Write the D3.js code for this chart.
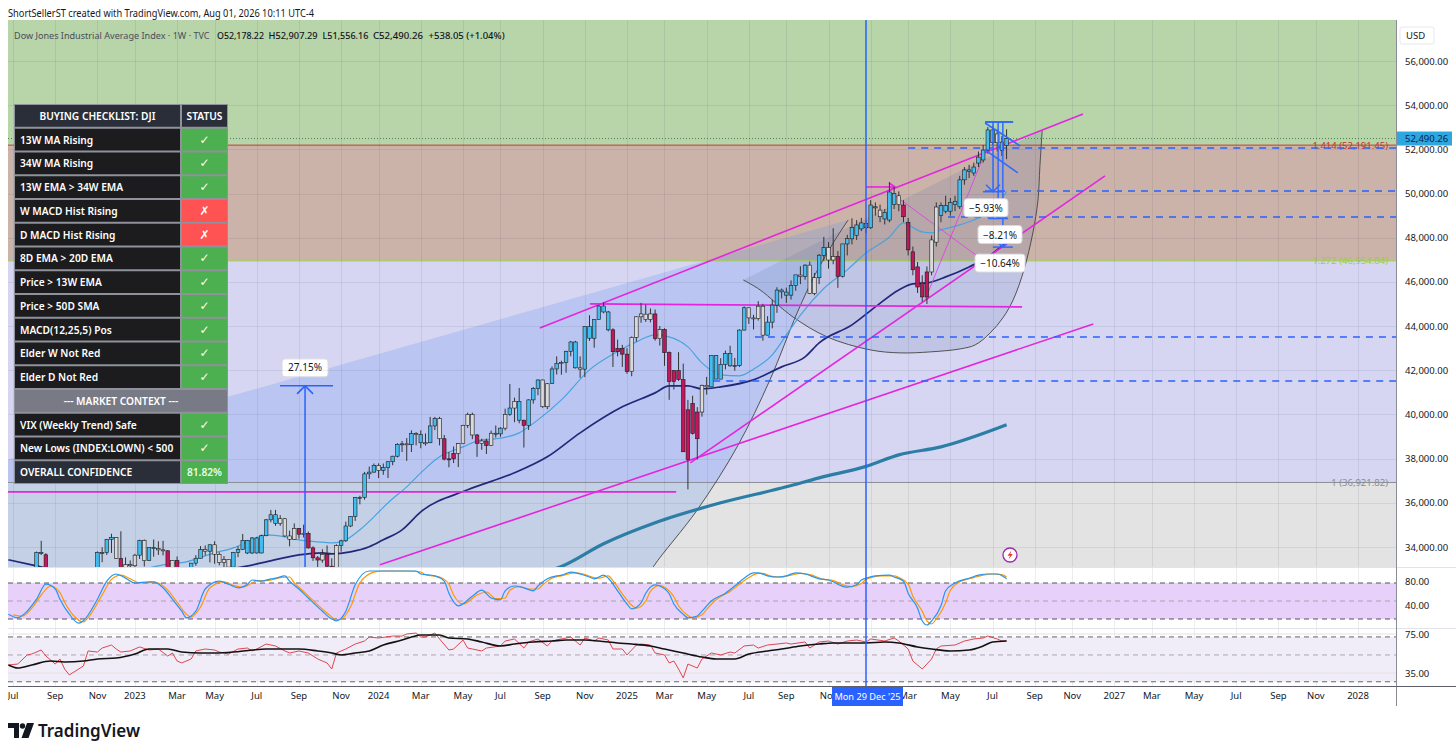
<!DOCTYPE html>
<html>
<head>
<meta http-equiv="Content-Type" content="text/html;charset=utf-8">
<script src="https://d3js.org/d3.v7.min.js"></script>
<style>
body { margin: 0; background: #fff; }
svg { display: block; font-family: "Noto Sans", sans-serif; }
</style>
</head>
<body>
<svg id="chart" width="1456" height="755"></svg>
<script type="text/javascript">

// ---- weekly bars, DJI, first bar = week of Mon 27 Jun 2022 ----
var opens = [31500,31100,31340,31300,31900,32850,32800,33760,33650,32300,
31320,32150,30820,29590,28730,29300,29640,31080,32860,32400,
33750,33750,34350,34430,33480,32920,33200,33150,33630,34300,
33380,33980,33930,33870,33830,32820,33390,31910,31860,32240,
33270,33490,33890,33810,34100,33670,33300,33430,33090,33760,
33880,34300,33730,34410,33730,34510,35230,35460,35070,35280,
34500,34350,34840,34580,34620,33960,33510,33410,33670,33130,
32420,34060,34280,34950,35390,36250,36250,37310,37390,37690,
37470,37590,37860,38110,38650,38670,38630,39130,39090,38720,
38720,39480,39810,38900,37980,37990,38240,38680,39510,40000,
39070,38690,38800,38590,39150,39120,39380,40000,40290,40590,
39740,39500,40660,41180,41560,40350,41400,42060,42310,42350,
42860,43280,42110,42050,43990,43450,44300,44910,44640,43830,
42840,42990,42730,41940,43490,44420,44540,44300,44550,43430,
43840,42800,41490,41990,41580,37960,40500,38900,40110,41320,
41250,42660,41600,42270,42760,42200,42210,43820,44830,44370,
44340,44900,43590,44180,44950,45630,45540,45400,45830,46310,
46250,46760,45480,46190,47200,47560,46990,47150,46250,47720,
47950,48100,48400,48650,48450,49400,49250,48850,48800,49500,
49900,49480,48700,47360,46680,45950,45320,46450,47800,49000,
49450,49200,49500,49400,50620,51000,50930,51380,51520,51970,
52880,52300,52330,52178.22];

var highs = [31540,31420,31360,32290,32910,32990,33790,34280,33720,32480,
32200,32510,31110,30070,30320,30040,31090,32890,33030,33800,
33990,34360,34600,34440,34710,33530,33390,33690,34330,34340,
33980,34340,34260,34280,33850,33410,33570,32600,32540,33280,
33630,34040,34070,34120,34260,33760,33590,33430,33780,34030,
34590,34320,34450,34460,34560,35270,35680,35680,35440,35310,
34740,35070,34860,35010,34700,34030,33590,33900,34070,33490,
34120,34330,35150,35400,36250,36320,37400,37640,37780,37790,
37780,37880,38130,38700,38800,38930,39280,39200,39280,39140,
39890,39890,39890,39070,38300,38550,38700,39530,40080,40080,
39120,38900,38910,39270,39500,39420,40260,41380,40760,41200,
39760,40680,41240,41590,41580,41420,42170,42630,42430,42880,
43330,43330,42630,44000,44490,44300,44960,45070,44690,43900,
43390,43150,43000,43530,44440,45050,44970,44800,44750,44000,
43900,42850,42000,42820,42300,40660,40850,40330,41350,41700,
42660,42670,42550,42890,43110,42560,43850,44890,44830,44510,
45130,45010,44450,45190,45760,45700,45740,46070,46310,46710,
46800,46920,46400,47260,48040,47800,48430,47400,47720,48130,
48880,48800,48900,48800,49700,49600,49500,49300,50520,50300,
50100,49700,48900,47600,46900,46300,46700,48100,49600,49600,
49900,49800,49900,50800,51200,51300,51400,51900,52200,53010,
53050,52900,52600,52907.29];

var lows = [30640,30690,30140,31280,31720,32410,32630,33640,32280,31220,
31110,30650,29440,28720,28720,28660,29640,31070,31730,32390,
33310,33640,33730,33470,32570,32580,32770,32810,33460,33120,
33380,33560,33640,33620,32790,32500,31880,31430,31810,32190,
33150,33490,33620,33300,33240,33170,33020,32670,32850,33540,
33860,33680,33680,33700,33710,34490,35120,34960,34960,34460,
34030,34340,34380,34430,33930,33370,32850,33290,33100,32330,
32330,33790,34230,34900,35180,35930,36140,37080,37360,37120,
37270,37120,37700,38050,38300,37900,38300,38600,38470,38590,
38700,39290,38600,37920,37610,37800,37620,38670,39390,38880,
38080,38400,38210,38580,38950,38990,39280,39940,39650,39600,
38500,39300,40490,40870,40300,40240,41380,41810,41800,41890,
42630,42080,41660,41690,43330,43020,44300,44580,43760,42150,
42630,42150,41840,41730,43300,44150,44190,44170,43340,43120,
42200,40660,41130,41520,38300,36610,39090,37960,39900,40900,
41250,41600,41600,42040,42160,41980,42150,43800,44100,43850,
44250,43340,43580,43900,44600,45250,45050,45200,45600,45900,
46100,45450,45400,45900,46950,46600,46800,45730,46200,47200,
47700,47900,48300,48200,48400,49000,48700,48600,48700,49300,
49200,48700,47200,46300,45500,45100,45000,46300,47600,48700,
49100,49000,49200,49300,50400,50700,50800,51200,51400,51800,
52200,51900,51700,51556.16];

var closes = [31100,31340,31290,31900,32850,32800,33760,33710,32280,31320,
32150,30820,29590,28730,29300,29630,31080,32860,32400,33750,
33750,34350,34430,33480,32920,33200,33150,33630,34300,33380,
33980,33930,33870,33830,32820,33390,31910,31860,32240,33270,
33490,33890,33810,34100,33670,33300,33430,33090,33760,33880,
34300,33730,34410,33730,34510,35230,35460,35070,35280,34500,
34350,34840,34580,34620,33960,33510,33410,33670,33130,32420,
34060,34280,34950,35390,36250,36250,37310,37390,37690,37470,
37590,37860,38110,38650,38670,38630,39130,39090,38720,38720,
39480,39810,38900,37980,37990,38240,38680,39510,40000,39070,
38690,38800,38590,39150,39120,39380,40000,40290,40590,39740,
39500,40660,41180,41560,40350,41390,42060,42310,42350,42860,
43280,42110,42050,43990,43450,44300,44910,44640,43830,42840,
42990,42730,41940,43490,44420,44550,44300,44550,43430,43840,
42800,41490,41990,41580,38310,40210,39140,40110,41320,41250,
42660,41600,42270,42760,42200,42210,43820,44830,44370,44340,
44900,43590,44180,44950,45630,45550,45400,45830,46320,46250,
46760,45480,46190,47210,47560,46990,47150,46250,47720,47960,
48460,48580,48670,48450,49480,49350,48950,49150,50070,50000,
49500,48950,47450,46550,45770,45320,46450,47900,49390,49450,
49200,49600,49650,50620,51070,51070,51200,51650,51970,52880,
52300,52700,51950,52490.26];

// Elder impulse colour per bar: b = blue, r = red, g = neutral
var impulse = "gggbbb" + "bb" + "rrrgrrrgg" + "bbbbbb" + "grgg" + "gbgbbgg" + "rgrrg" + "bbbgbg" +
  "gggb" + "bbbbbbbb" + "bggg" + "grgr" + "rrgrr" + "g" + "bbbbbbbb" + "gbbbbbgbgbgbbg" +
  "rrrggggrgrg" + "bbgbgbrbbbggbbgbbbgbbbbbb" + "rrrrgggggrgrrrrrrrrgg" + "bbbbbbbbggggbbbb" +
  "bbbgbggbbggr" + "bbbbbbbb" + "gbbbg" + "rrrrrr" + "gg" + "bbbbbbbbbbbb" + "gbb";

// moving averages [bar, price]
var ema13 = [[30,33050],[33,33194],[38,33330],[44,33737],[48,33963],[52,34325],[55,34551],[59,34461],
  [62,34325],[66,34234],[69,34189],[71,34234],[75,34777],[78,35366],[81,35999],[85,36724],[88,37357],
  [92,38081],[97,38534],[101,38850],[104,38895],[109,39167],[113,39755],[118,40660],[124,42020],
  [130,42850],[134,43285],[138,43602],[141,43511],[145,43058],[148,42335],[152,41792],[156,41750],
  [159,42050],[163,42700],[166,43600],[169,44500],[174,45700],[179,46543],[183,47312],[188,48036],
  [191,48670],[192,48579],[195,48262],[197,48217],[199,48353],[203,48579],[206,48805],[209,49122],
  [211,49500],[213,50100]];
var ema34 = [[0,33420],[5,33194],[8,33050],[15,32700],[25,32500],[35,32700],[45,32950],[50,33100],
  [55,33330],[62,33646],[67,33737],[69,33692],[73,33782],[77,34008],[80,34325],[84,34777],[88,35592],
  [98,36588],[108,37357],[115,38081],[122,39167],[131,40344],[138,40977],[141,41294],[145,41294],
  [148,41158],[152,41249],[159,41565],[165,42154],[170,42606],[173,43240],[180,44054],[185,44868],
  [190,45637],[193,45909],[196,45954],[200,46226],[205,46678],[209,47131],[213,47810]];
var sma200 = [[108,32600],[118,33120],[127,34150],[138,35100],[152,36000],[166,36724],[173,37130],
  [183,37650],[190,38170],[199,38530],[213,39530]];

// fib extension levels
var fibRatios = ["1.414", "1.272", "1"];
var fibPrices = [52191.45, 46954.04, 36921.82];

// drawings, anchors as [bar, price]
var trendLines = [
  [113.4,43918,229.3,53602],
  [124.1,45004,216.3,44868],
  [145.5,37810,234,50796],
  [79.3,33194,231.5,44099],
  [-1,36497,142.5,36497]
];
var thinLines = [
  [195.6,45185,209.5,52425],
  [188.1,50072,207.3,47086]
];
var dashedLevels = [[192,52063],[208.4,50118],[200.5,48941],[159.3,43511],[150.4,41520]];
var flagLines = [[208.4,53195,215.9,52154],[208.4,51973,215.4,50932]];
var bowlArc = [[156.8,46090],[160.4,45638],[167.4,44416],[174.7,43511],[183.9,42923],[190.3,42787],
  [196.7,42832],[203.1,42968],[206.3,43149],[209.5,43692],[212.2,44371],[214.4,45185],[216.7,46543],
  [218.6,48217],[219.7,49710],[220.1,51204],[220.6,52878]];
var riseCurve = [[134.5,32000],[137.6,33104],[147,35683],[155.5,38534],[162.5,41565],[168.3,44597],
  [172.1,46317],[176.4,47900],[179.2,48805]];
var fanTop = [-2,37840];
var leftMeasure = [63.3, 32477, 41294, "27.15%"];
var dropTop = 53240;
var dropBars = [210.1, 211.2, 212.2];
var dropPct = [-5.93, -8.21, -10.64];
var dropLabelBars = [208.6, 211.6, 211.6];

// indicators [bar, value]
var stochK = [[0,28],[2,22],[4,33],[6,53],[8,78],[10,70],[11,53],[13,28],[15,13],[16,17],[19,53],[21,83],
  [23,95],[25,88],[27,80],[30,82],[31,82],[33,72],[35,53],[37,33],[38,22],[40,33],[42,70],[45,83],[47,78],
  [49,72],[51,78],[52,85],[54,83],[56,87],[57,88],[59,92],[60,83],[62,70],[64,55],[67,33],[69,20],[70,17],
  [72,33],[74,77],[77,100],[79,100],[81,100],[84,100],[87,100],[88,95],[91,92],[93,83],[94,63],[96,42],
  [99,58],[101,68],[103,55],[105,52],[106,67],[108,75],[110,72],[112,67],[113,75],[115,87],[117,92],
  [118,93],[120,98],[122,95],[124,90],[125,87],[127,93],[128,88],[130,67],[132,45],[133,37],[135,47],
  [136,63],[138,77],[139,75],[141,62],[142,45],[144,28],[145,22],[147,25],[148,33],[150,50],[153,63],
  [155,75],[157,88],[159,97],[160,97],[162,92],[164,90],[166,92],[168,97],[170,95],[173,87],[175,85],
  [176,82],[177,78],[179,73],[181,77],[182,85],[183,88],[185,92],[188,93],[189,90],[191,83],[192,63],
  [194,38],[195,17],[196,10],[197,17],[199,42],[200,67],[202,80],[205,88],[207,93],[209,95],[211,95],[213,87]];
var stochD = [[1,27],[3,25],[5,38],[7,60],[9,75],[11,64],[12,48],[14,25],[16,15],[17,22],[20,60],[22,86],
  [24,93],[26,87],[28,80],[31,81],[32,80],[34,68],[36,48],[38,28],[39,23],[41,40],[43,72],[46,82],[48,76],
  [50,73],[52,80],[53,84],[55,84],[57,87],[58,89],[60,90],[61,80],[63,66],[65,51],[68,30],[70,19],[71,20],
  [73,40],[75,80],[78,98],[80,100],[82,100],[85,100],[88,98],[89,94],[92,90],[94,78],[95,60],[97,45],
  [100,60],[102,65],[104,54],[106,55],[107,68],[109,74],[111,70],[113,70],[114,77],[116,88],[118,92],
  [119,94],[121,97],[123,94],[125,89],[126,88],[128,92],[129,84],[131,62],[133,43],[134,38],[136,50],
  [137,66],[139,76],[140,73],[142,57],[143,42],[145,26],[146,22],[148,27],[149,36],[151,52],[154,66],
  [156,78],[158,89],[160,96],[161,96],[163,91],[165,90],[167,93],[169,96],[171,94],[174,86],[176,84],
  [177,81],[178,77],[180,74],[182,79],[183,86],[184,89],[186,92],[189,92],[190,89],[192,78],[193,58],
  [195,33],[196,17],[197,12],[198,20],[200,47],[201,68],[203,82],[206,89],[208,93],[210,95],[212,94],[213,90]];
var rsiLine = [[0,43.2],[2,44.2],[4,53.5],[5,54.5],[7,58.6],[8,52.4],[10,44.2],[11,49.4],[12,39.1],[13,33.0],
  [15,39.1],[16,42.2],[17,57.6],[19,56.5],[20,60.6],[22,63.7],[23,59.6],[24,56.5],[26,57.6],[28,61.7],
  [30,58.6],[32,59.6],[34,52.4],[35,55.5],[36,47.3],[37,45.3],[39,49.4],[40,57.6],[42,59.6],[44,58.6],
  [45,56.5],[47,54.5],[49,59.6],[51,60.6],[52,57.6],[53,59.6],[55,64.7],[57,62.7],[59,57.6],[60,55.5],
  [62,57.6],[64,55.5],[66,49.4],[67,47.3],[68,45.3],[69,39.1],[70,55.5],[72,59.6],[74,64.7],[76,67.8],
  [77,71.9],[79,70.9],[82,72.9],[84,72.9],[85,75],[87,76],[88,71.9],[89,71.9],[91,76],[92,69.9],[94,58.6],
  [95,59.6],[97,68.8],[98,60.6],[99,59.6],[101,57.6],[102,60.6],[105,62.7],[106,67.8],[108,69.9],[110,60.6],
  [111,66.8],[113,69.9],[115,62.7],[116,67.8],[118,69.9],[120,71.9],[122,63.7],[123,70.9],[125,67.8],
  [126,70.9],[128,68.8],[129,59.6],[131,59.6],[132,53.5],[134,63.7],[135,64.7],[137,63.7],[138,55.5],
  [140,53.5],[141,45.3],[142,47.3],[143,39.1],[144,29.9],[145,44.2],[147,40.1],[148,49.4],[150,55.5],
  [152,53.5],[154,56.5],[155,55.5],[157,62.7],[159,63.7],[160,60.6],[162,63.7],[164,64.7],[166,65.8],
  [167,64.7],[170,66.8],[171,60.6],[173,66.8],[175,67.8],[177,64.7],[179,67.8],[181,68.8],[183,66.8],
  [184,69.9],[187,67.8],[189,70.9],[190,67.8],[192,59.6],[193,47.3],[195,39.1],[197,49.4],[198,59.6],
  [199,62.7],[202,63.7],[204,67.8],[206,69.9],[208,70.9],[209,72.9],[211,69.9],[212,67.8],[213,67.8]];
var rsiAvg = [[0,43.2],[2,40.1],[5,43.2],[9,47.3],[12,46.3],[16,47.3],[19,49.4],[23,50.4],[27,54.5],
  [30,59.6],[34,59.6],[37,56.5],[41,55.5],[44,55.5],[48,56.5],[52,58.6],[55,59.6],[59,59.6],[62,59.6],
  [66,57.6],[69,55.5],[71,53.5],[74,55.5],[77,57.6],[80,63.7],[84,68.8],[86,71.9],[88,74],[92,74],
  [94,70.9],[98,69.9],[101,66.8],[105,62.7],[108,64.7],[112,66.8],[116,67.8],[119,68.8],[123,68.8],
  [126,67.8],[130,65.8],[133,64.7],[137,62.7],[140,59.6],[144,55.5],[148,51.4],[151,49.4],[155,49.4],
  [158,54.5],[162,57.6],[165,59.6],[169,62.7],[173,64.7],[176,65.8],[180,65.8],[183,65.8],[187,66.8],
  [190,65.8],[194,61.7],[197,59.6],[201,57.6],[205,58.6],[208,62.7],[210,66.8],[213,67.8]];

// axis ticks
var priceTicks = [34000,36000,38000,40000,42000,44000,46000,48000,50000,52000,54000,56000];
var stochTicks = [80, 40];
var rsiTicks = [75, 35];
var stochLevels = [80, 50, 20];
var rsiLevels = [72, 53.5, 26];
var timeLabels = ["Jul","Sep","Nov","2023","Mar","May","Jul","Sep","Nov","2024","Mar","May","Jul","Sep","Nov",
  "2025","Mar","May","Jul","Sep","Nov","2026","Mar","May","Jul","Sep","Nov","2027","Mar","May","Jul","Sep","Nov","2028"];

// checklist table
var checkItems = ["13W MA Rising","34W MA Rising","13W EMA > 34W EMA","W MACD Hist Rising","D MACD Hist Rising",
  "8D EMA > 20D EMA","Price > 13W EMA","Price > 50D SMA","MACD(12,25,5) Pos","Elder W Not Red","Elder D Not Red"];
var checkPass = [1,1,1,0,0,1,1,1,1,1,1];
var contextItems = ["VIX (Weekly Trend) Safe","New Lows (INDEX:LOWN) < 500"];
var contextPass = [1,1];
var confidence = "81.82%";

var legendName = "Dow Jones Industrial Average Index \u00b7 1W \u00b7 TVC";
var ohlcKeys = ["O","H","L","C"];
var ohlcVals = [52178.22, 52907.29, 51556.16, 52490.26];
var changeText = "+538.05 (+1.04%)";

// ---------------- layout ----------------
var L = 8, R = 1396, mainTop = 20, mainBot = 567, stTop = 568, stBot = 628, rsTop = 629, rsBot = 686;
var WEEK = 7 * 864e5;
var t0 = Date.UTC(2022, 5, 27);

var x = d3.scaleUtc().domain([new Date(t0), new Date(Date.UTC(2025, 11, 29))]).range([8.4, 866]);
function xi(i) { return x(new Date(t0 + i * WEEK)); }
var y = d3.scaleLinear().domain([34000, 56000]).range([547, 61]);
var sy = d3.scaleLinear().domain([20, 80]).range([619, 583]);
var ry = d3.scaleLinear().domain([35, 75]).range([673, 634]);

var fmt = d3.format(",.2f");
var svg = d3.select("#chart");
svg.append("rect").attr("width", 1456).attr("height", 755).attr("fill", "#fff");

var defs = svg.append("defs");
function clip(id, y0, y1) {
  defs.append("clipPath").attr("id", id).append("rect")
    .attr("x", L).attr("y", y0).attr("width", R - L).attr("height", y1 - y0);
}
clip("cMain", mainTop, mainBot); clip("cSt", stTop, stBot); clip("cRs", rsTop, rsBot);

// header
svg.append("text").attr("x", 8).attr("y", 17).attr("font-size", 11.5).attr("fill", "#131722")
  .attr("textLength", 306).attr("lengthAdjust", "spacingAndGlyphs")
  .text("ShortSellerST created with TradingView.com, Aug 01, 2026 10:11 UTC-4");

// ---------------- main pane ----------------
var main = svg.append("g").attr("clip-path", "url(#cMain)");
var bandEdges = [mainTop, y(fibPrices[0]), y(fibPrices[1]), y(fibPrices[2]), mainBot];
var bandFill = ["#b8d4a9", "#cbb3a9", "#d6d6f3", "#e3e3e3"];
for (var b = 0; b < 4; b++) {
  main.append("rect").attr("x", L).attr("y", bandEdges[b]).attr("width", R - L)
    .attr("height", bandEdges[b + 1] - bandEdges[b]).attr("fill", bandFill[b]);
}

var curveIP = d3.line().x(function (d) { return xi(d[0]); }).y(function (d) { return y(d[1]); }).curve(d3.curveCatmullRom);

// big shaded fan area
var revRise = riseCurve.slice().reverse();
var fanPath = "M" + xi(fanTop[0]) + "," + y(fanTop[1]) + curveIP(revRise).replace(/^M/, "L") +
  "L" + xi(fanTop[0]) + "," + y(riseCurve[0][1]) + "Z";
main.append("path").attr("d", fanPath).attr("fill", "rgba(105,150,235,0.25)");
// bowl arc area
main.append("path").attr("d", curveIP(bowlArc) + "Z").attr("fill", "rgba(95,115,165,0.18)");

// grid
var tickDates = d3.utcMonth.range(new Date(Date.UTC(2022, 6, 1)), new Date(Date.UTC(2028, 1, 1)), 2)
  .map(function (m) { return d3.utcMonday.ceil(m); });
var grid = svg.append("g").attr("stroke", "rgba(40,50,90,0.09)").attr("stroke-width", 1);
tickDates.forEach(function (d) {
  var gx = Math.round(x(d)) + 0.5;
  grid.append("line").attr("x1", gx).attr("x2", gx).attr("y1", mainTop).attr("y2", rsBot);
});
priceTicks.forEach(function (p) {
  grid.append("line").attr("x1", L).attr("x2", R).attr("y1", Math.round(y(p)) + 0.5).attr("y2", Math.round(y(p)) + 0.5);
});

// fib lines and labels
var fibColor = ["#c0392b", "#9ccc45", "#8a8d96"];
fibPrices.forEach(function (p, k) {
  main.append("line").attr("x1", L).attr("x2", R).attr("y1", y(p)).attr("y2", y(p))
    .attr("stroke", fibColor[k]).attr("stroke-width", 1);
  main.append("text").attr("x", 1388).attr("y", y(p) + 3.5).attr("text-anchor", "end")
    .attr("font-size", 9.5).attr("fill", fibColor[k])
    .text(fibRatios[k] + " (" + fmt(p) + ")");
});

// last price dotted line
main.append("line").attr("x1", L).attr("x2", R).attr("y1", y(closes[closes.length - 1])).attr("y2", y(closes[closes.length - 1]))
  .attr("stroke", "#4f7f55").attr("stroke-dasharray", "1,2").attr("stroke-width", 1);

// curves: rising arc + bowl
main.append("path").attr("d", curveIP(riseCurve)).attr("fill", "none").attr("stroke", "#444").attr("stroke-width", 0.9);
main.append("path").attr("d", curveIP(bowlArc)).attr("fill", "none").attr("stroke", "#444").attr("stroke-width", 0.9);

// moving averages
var maLine = d3.line().x(function (d) { return xi(d[0]); }).y(function (d) { return y(d[1]); }).curve(d3.curveMonotoneX);
main.append("path").attr("d", maLine(sma200)).attr("fill", "none").attr("stroke", "#2c7ea6").attr("stroke-width", 3.2);
main.append("path").attr("d", maLine(ema34)).attr("fill", "none").attr("stroke", "#22287a").attr("stroke-width", 1.7);
main.append("path").attr("d", maLine(ema13)).attr("fill", "none").attr("stroke", "#4aa3df").attr("stroke-width", 1.2);

// trend lines
trendLines.forEach(function (t) {
  main.append("line").attr("x1", xi(t[0])).attr("y1", y(t[1])).attr("x2", xi(t[2])).attr("y2", y(t[3]))
    .attr("stroke", "#e427de").attr("stroke-width", 1.6);
});
thinLines.forEach(function (t) {
  main.append("line").attr("x1", xi(t[0])).attr("y1", y(t[1])).attr("x2", xi(t[2])).attr("y2", y(t[3]))
    .attr("stroke", "#e040e6").attr("stroke-width", 1).attr("opacity", 0.85);
});
// pink arrow into Feb peak
(function () {
  var ax0 = xi(183), ax1 = xi(189.2), ay = y(50298);
  main.append("line").attr("x1", ax0).attr("x2", ax1).attr("y1", ay).attr("y2", ay).attr("stroke", "#e427de").attr("stroke-width", 1.6);
  main.append("path").attr("d", "M" + (ax1 - 6) + "," + (ay - 4) + "L" + ax1 + "," + ay + "L" + (ax1 - 6) + "," + (ay + 4))
    .attr("fill", "none").attr("stroke", "#e427de").attr("stroke-width", 1.6);
})();

// dashed levels
dashedLevels.forEach(function (d) {
  main.append("line").attr("x1", xi(d[0])).attr("x2", R).attr("y1", y(d[1])).attr("y2", y(d[1]))
    .attr("stroke", "#2962ff").attr("stroke-width", 1.5).attr("stroke-dasharray", "7,6");
});

// candles
var candles = main.append("g");
var colorMap = { b: "#45bdf0", r: "#c2185b", g: "#dadada" };
closes.forEach(function (c, i) {
  var cx = xi(i), o = opens[i];
  var col = colorMap[impulse.charAt(i)] || colorMap.b;
  candles.append("line").attr("x1", cx).attr("x2", cx).attr("y1", y(highs[i])).attr("y2", y(lows[i]))
    .attr("stroke", "#333").attr("stroke-width", 1);
  var top = y(Math.max(o, c)), h = Math.max(1, Math.abs(y(o) - y(c)));
  candles.append("rect").attr("x", cx - 1.8).attr("width", 3.6).attr("y", top).attr("height", h)
    .attr("fill", col).attr("stroke", "#1b1b1b").attr("stroke-width", 0.6);
});

// flag lines
flagLines.forEach(function (t) {
  main.append("line").attr("x1", xi(t[0])).attr("y1", y(t[1])).attr("x2", xi(t[2])).attr("y2", y(t[3]))
    .attr("stroke", "#2f6bff").attr("stroke-width", 1.6);
});

// left measure (+27.15%)
(function () {
  var mx = xi(leftMeasure[0]), yTop = y(leftMeasure[2]);
  var c = "#2962ff";
  main.append("line").attr("x1", mx).attr("x2", mx).attr("y1", y(leftMeasure[1])).attr("y2", yTop).attr("stroke", c).attr("stroke-width", 1.5);
  main.append("line").attr("x1", mx - 25).attr("x2", mx + 28).attr("y1", yTop).attr("y2", yTop).attr("stroke", c).attr("stroke-width", 1.5);
  main.append("path").attr("d", "M" + (mx - 8) + "," + (yTop + 8) + "L" + mx + "," + yTop + "L" + (mx + 8) + "," + (yTop + 8))
    .attr("fill", "none").attr("stroke", c).attr("stroke-width", 1.5);
  main.append("rect").attr("x", mx - 23).attr("y", yTop - 27).attr("width", 46).attr("height", 18).attr("rx", 3)
    .attr("fill", "#fff").attr("stroke", "#d6d9e0");
  main.append("text").attr("x", mx).attr("y", yTop - 14.5).attr("text-anchor", "middle").attr("font-size", 10)
    .attr("fill", "#131722").text(leftMeasure[3]);
})();

// right drop measures
(function () {
  var c = "#2f6bff";
  var yT = y(dropTop);
  main.append("line").attr("x1", xi(208.4)).attr("x2", xi(214.4)).attr("y1", yT).attr("y2", yT).attr("stroke", c).attr("stroke-width", 2);
  dropBars.forEach(function (bi, k) {
    var mx = xi(bi), yE = y(dropTop * (1 + dropPct[k] / 100));
    main.append("line").attr("x1", mx).attr("x2", mx).attr("y1", yT).attr("y2", yE).attr("stroke", c).attr("stroke-width", 1.5);
    main.append("path").attr("d", "M" + (mx - 7) + "," + (yE - 7) + "L" + mx + "," + yE + "L" + (mx + 7) + "," + (yE - 7))
      .attr("fill", "none").attr("stroke", c).attr("stroke-width", 1.5);
    main.append("line").attr("x1", mx - 10).attr("x2", mx + 10).attr("y1", yE).attr("y2", yE).attr("stroke", c).attr("stroke-width", 1.5);
  });
  dropBars.forEach(function (bi, k) {
    var lx = xi(dropLabelBars[k]), yE = y(dropTop * (1 + dropPct[k] / 100));
    var txt = "\u2212" + Math.abs(dropPct[k]).toFixed(2) + "%";
    var w = txt.length * 6 + 8;
    main.append("rect").attr("x", lx - w / 2).attr("y", yE + 7).attr("width", w).attr("height", 18).attr("rx", 3)
      .attr("fill", "#fff").attr("stroke", "#d6d9e0");
    main.append("text").attr("x", lx).attr("y", yE + 20).attr("text-anchor", "middle").attr("font-size", 10)
      .attr("fill", "#131722").text(txt);
  });
})();

// news icon
(function () {
  var g = svg.append("g").attr("transform", "translate(1010,555)");
  g.append("circle").attr("r", 7).attr("fill", "#fff").attr("stroke", "#9c27b0").attr("stroke-width", 1.3);
  g.append("path").attr("d", "M1.5,-4.5 L-2.5,0.8 L0,0.8 L-1.5,4.5 L2.8,-1 L0.3,-1 Z").attr("fill", "#e53935");
})();

// legend row: separate texts, each shrunk until it fits its slot
(function () {
  var ly = 39;
  var pieces = [legendName].concat(ohlcVals.map(function (v, k) { return ohlcKeys[k] + fmt(v); }), [changeText]);
  var slotX = [14, 217, 268.6, 322.5, 373, 428.6];
  var slotW = [196, 47, 49, 46, 50, 76];
  var cols = ["#4a4e59", "#131722", "#131722", "#131722", "#131722", "#131722"];
  pieces.forEach(function (txt, k) {
    var t = svg.append("text").attr("x", slotX[k]).attr("y", ly).attr("font-size", 10.5)
      .attr("fill", cols[k]).attr("font-weight", k ? 500 : 400).text(txt);
    var w = t.node().getComputedTextLength();
    if (w > slotW[k]) t.attr("font-size", 10.5 * slotW[k] / w);
  });
})();

// ---------------- checklist table ----------------
(function () {
  var tx = 14, split = 181, tr = 228, top = 104, rh = 23.75;
  var t = svg.append("g");
  t.append("rect").attr("x", tx).attr("y", top).attr("width", tr - tx).attr("height", rh * 16).attr("fill", "#8f929b");
  function cell(x0, x1, r, fill) {
    t.append("rect").attr("x", x0 + 1).attr("y", top + r * rh + 1).attr("width", x1 - x0 - 2).attr("height", rh - 2).attr("fill", fill);
  }
  function label(xp, r, txt, anchor, col, size, fam) {
    t.append("text").attr("x", xp).attr("y", top + r * rh + rh / 2 + 4).attr("text-anchor", anchor)
      .attr("font-size", size || 10.2).attr("font-weight", 600).attr("fill", col || "#fff")
      .attr("font-family", fam || null).text(txt);
  }
  var row = 0;
  cell(tx, split, row, "#2a2e39"); cell(split, tr, row, "#2a2e39");
  label((tx + split) / 2, row, "BUYING CHECKLIST: DJI", "middle");
  label((split + tr) / 2, row, "STATUS", "middle");
  row++;
  checkItems.forEach(function (name, k) {
    cell(tx, split, row, "#1c1c1e");
    cell(split, tr, row, checkPass[k] ? "#4caf50" : "#ff5252");
    label(tx + 6, row, name, "start");
    label((split + tr) / 2, row, checkPass[k] ? "\u2713" : "\u2717", "middle", "#fff", 12, "DejaVu Sans");
    row++;
  });
  cell(tx, tr, row, "#787b86");
  label((tx + tr) / 2, row, "--- MARKET CONTEXT ---", "middle");
  row++;
  contextItems.forEach(function (name, k) {
    cell(tx, split, row, "#1c1c1e");
    cell(split, tr, row, contextPass[k] ? "#4caf50" : "#ff5252");
    label(tx + 6, row, name, "start");
    label((split + tr) / 2, row, contextPass[k] ? "\u2713" : "\u2717", "middle", "#fff", 12, "DejaVu Sans");
    row++;
  });
  cell(tx, split, row, "#2a2e39"); cell(split, tr, row, "#4caf50");
  label(tx + 6, row, "OVERALL CONFIDENCE", "start");
  label((split + tr) / 2, row, confidence, "middle", "#e8ffe6");
})();

// ---------------- stochastic pane ----------------
var st = svg.append("g").attr("clip-path", "url(#cSt)");
st.append("rect").attr("x", L).attr("y", sy(80)).attr("width", R - L).attr("height", sy(20) - sy(80)).attr("fill", "#e7d0f9");
stochLevels.forEach(function (v, k) {
  st.append("line").attr("x1", L).attr("x2", R).attr("y1", sy(v)).attr("y2", sy(v))
    .attr("stroke", k === 1 ? "#a9a2b5" : "#555").attr("stroke-dasharray", "5,4").attr("stroke-width", 1);
});
var sLine = d3.line().x(function (d) { return xi(d[0]); }).y(function (d) { return sy(d[1]); }).curve(d3.curveMonotoneX);
st.append("path").attr("d", sLine(stochD)).attr("fill", "none").attr("stroke", "#ff9800").attr("stroke-width", 1.2);
st.append("path").attr("d", sLine(stochK)).attr("fill", "none").attr("stroke", "#2196f3").attr("stroke-width", 1.2);

// ---------------- RSI pane ----------------
var rs = svg.append("g").attr("clip-path", "url(#cRs)");
rs.append("rect").attr("x", L).attr("y", ry(rsiLevels[0])).attr("width", R - L)
  .attr("height", ry(rsiLevels[2]) - ry(rsiLevels[0])).attr("fill", "#f1edf8");
rsiTicks.forEach(function (v) {
  rs.append("line").attr("x1", L).attr("x2", R).attr("y1", ry(v)).attr("y2", ry(v)).attr("stroke", "#e2e0ea");
});
rsiLevels.forEach(function (v, k) {
  rs.append("line").attr("x1", L).attr("x2", R).attr("y1", ry(v)).attr("y2", ry(v))
    .attr("stroke", k === 1 ? "#a9a2b5" : "#666").attr("stroke-dasharray", "5,4").attr("stroke-width", 1);
});
var rLine = d3.line().x(function (d) { return xi(d[0]); }).y(function (d) { return ry(d[1]); });
rs.append("path").attr("d", rLine(rsiLine)).attr("fill", "none").attr("stroke", "#e0464f").attr("stroke-width", 1);
rs.append("path").attr("d", rLine.curve(d3.curveMonotoneX)(rsiAvg)).attr("fill", "none").attr("stroke", "#111").attr("stroke-width", 1.6);

// pane separators
[mainBot + 0.5, stBot + 0.5].forEach(function (yy) {
  svg.append("line").attr("x1", L).attr("x2", 1456).attr("y1", yy).attr("y2", yy).attr("stroke", "#e0e3eb");
});

// vertical cursor line
svg.append("line").attr("x1", 866).attr("x2", 866).attr("y1", mainTop).attr("y2", rsBot)
  .attr("stroke", "#2962ff").attr("stroke-width", 1.5);

// ---------------- axes ----------------
svg.append("line").attr("x1", R + 0.5).attr("x2", R + 0.5).attr("y1", mainTop).attr("y2", 706).attr("stroke", "#8a8d96");
svg.append("line").attr("x1", L).attr("x2", 1456).attr("y1", rsBot + 0.5).attr("y2", rsBot + 0.5).attr("stroke", "#5d606b");

var axisG = svg.append("g").attr("font-size", 9.5).attr("fill", "#131722");
priceTicks.forEach(function (p) {
  if (Math.abs(y(p) - y(closes[closes.length - 1])) < 9) return; // hidden under last-price tag
  axisG.append("text").attr("x", 1405).attr("y", y(p) + 3.5).text(fmt(p));
});
stochTicks.forEach(function (v) {
  axisG.append("text").attr("x", 1405).attr("y", sy(v) + 2).text(fmt(v));
});
rsiTicks.forEach(function (v) {
  axisG.append("text").attr("x", 1405).attr("y", ry(v) + 3.5).text(fmt(v));
});
// last price tag
(function () {
  var py = y(closes[closes.length - 1]);
  svg.append("rect").attr("x", 1397).attr("y", py - 7).attr("width", 55).attr("height", 14).attr("fill", "#2ea6df");
  svg.append("text").attr("x", 1405).attr("y", py + 3.5).attr("font-size", 9.5).attr("fill", "#0b1e3f").text(fmt(closes[closes.length - 1]));
})();
svg.append("rect").attr("x", 1400).attr("y", 27).attr("width", 34).attr("height", 17).attr("rx", 2).attr("fill", "#fff").attr("stroke", "#e6e8ee");
svg.append("text").attr("x", 1406).attr("y", 39).attr("font-size", 9.5).attr("fill", "#131722").text("USD");

// time axis; the crosshair date box hides what lies under it
var boxX0 = 832, boxX1 = 903;
defs.append("clipPath").attr("id", "cAxis").selectAll("rect")
  .data([[L, boxX0], [boxX1, R]]).enter().append("rect")
  .attr("x", function (d) { return d[0]; }).attr("y", 686).attr("width", function (d) { return d[1] - d[0]; }).attr("height", 20);
var timeG = axisG.append("g").attr("clip-path", "url(#cAxis)");
tickDates.forEach(function (d, k) {
  var tx = x(d);
  if (tx > boxX0 + 4 && tx < boxX1 - 4) return;
  timeG.append("text").attr("x", tx).attr("y", 699).attr("text-anchor", "middle").attr("font-size", 9.5)
    .text(timeLabels[k]);
});
svg.append("rect").attr("x", boxX0).attr("y", 687).attr("width", boxX1 - boxX0).attr("height", 19).attr("fill", "#2962ff");
svg.append("text").attr("x", 867.5).attr("y", 700).attr("text-anchor", "middle").attr("font-size", 9.2)
  .attr("fill", "#fff").text("Mon 29 Dec '25");

// ---------------- footer logo ----------------
(function () {
  var g = svg.append("g").attr("fill", "#131722");
  g.append("path").attr("d", "M8,723 H19 V738 H14 V728 H8 Z");
  g.append("circle").attr("cx", 22.5).attr("cy", 726).attr("r", 2.7);
  g.append("path").attr("d", "M27,723 H34 L28.5,738 H21.5 Z");
  svg.append("text").attr("x", 38).attr("y", 737).attr("font-size", 17).attr("font-weight", 600)
    .attr("fill", "#131722").text("TradingView");
})();

</script>
</body>
</html>
